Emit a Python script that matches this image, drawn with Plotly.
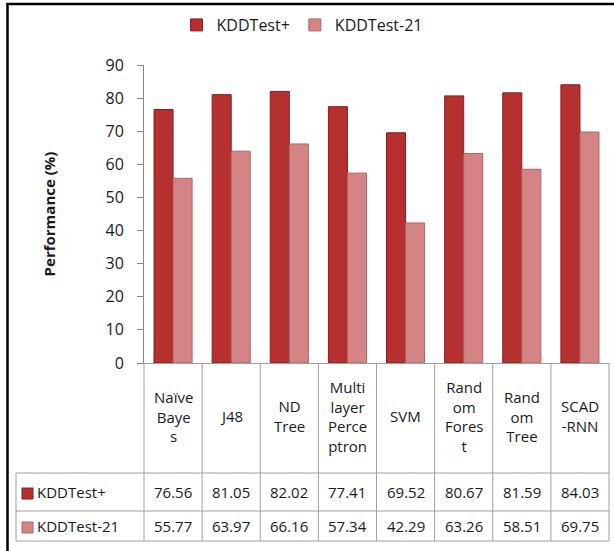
import plotly.graph_objects as go

categories = ["Naïve<br>Baye<br>s", "J48", "ND<br>Tree", "Multi<br>layer<br>Perce<br>ptron", "SVM",
              "Rand<br>om<br>Fores<br>t", "Rand<br>om<br>Tree", "SCAD<br>-RNN"]
cat_ids = ["Naïve Bayes", "J48", "ND Tree", "Multilayer Perceptron", "SVM",
           "Random Forest", "Random Tree", "SCAD-RNN"]
series_names = ["KDDTest+", "KDDTest-21"]
kdd_plus = [76.56, 81.05, 82.02, 77.41, 69.52, 80.67, 81.59, 84.03]
kdd_21 = [55.77, 63.97, 66.16, 57.34, 42.29, 63.26, 58.51, 69.75]
y_ticks = [0, 10, 20, 30, 40, 50, 60, 70, 80, 90]

W, H = 614, 551
L, R, T, B = 144, 5, 65, 188
pw, ph = W - L - R, H - T - B
y0pix = T + ph

def px(p):
    return (p - L) / pw

def py(p):
    return (y0pix - p) / ph

col_dark = "#B5302F"
col_dark_edge = "#8A1C1C"
col_light = "#D58486"
col_light_edge = "#B06466"
grid_col = "#A0A0A0"
txt_col = "#1a1a1a"
FONT = "Open Sans"

fig = go.Figure()
fig.add_trace(go.Bar(x=cat_ids, y=kdd_plus, name=series_names[0],
                     marker=dict(color=col_dark, line=dict(color=col_dark_edge, width=1))))
fig.add_trace(go.Bar(x=cat_ids, y=kdd_21, name=series_names[1],
                     marker=dict(color=col_light, line=dict(color=col_light_edge, width=1))))

shapes = []
n = len(cat_ids)
# table lines
row_lines = [473, 511, 541]
for i in range(n + 1):
    shapes.append(dict(type="line", xref="paper", yref="paper", x0=i / n, x1=i / n,
                       y0=py(y0pix), y1=py(541), line=dict(color=grid_col, width=1)))
shapes.append(dict(type="line", xref="paper", yref="paper", x0=px(16), x1=px(16),
                   y0=py(473), y1=py(541), line=dict(color=grid_col, width=1)))
for r in row_lines:
    shapes.append(dict(type="line", xref="paper", yref="paper", x0=px(16), x1=1,
                       y0=py(r), y1=py(r), line=dict(color=grid_col, width=1)))
# legend keys in table
for r, (c, e) in zip([492, 526], [(col_dark, col_dark_edge), (col_light, col_light_edge)]):
    shapes.append(dict(type="rect", xref="paper", yref="paper", x0=px(22), x1=px(33),
                       y0=py(r + 7), y1=py(r - 4), fillcolor=c, line=dict(color=e, width=1)))
# outer black frame (top and left)
shapes.append(dict(type="line", xref="paper", yref="paper", x0=px(6.5), x1=px(614),
                   y0=py(4), y1=py(4), line=dict(color="black", width=2.5)))
shapes.append(dict(type="line", xref="paper", yref="paper", x0=px(7.5), x1=px(7.5),
                   y0=py(3), y1=py(551), line=dict(color="black", width=2.5)))

annotations = []
for i, c in enumerate(categories):
    annotations.append(dict(x=cat_ids[i], xref="x", y=py(416), yref="paper", text=c,
                            showarrow=False, font=dict(family=FONT, size=15, color=txt_col),
                            xanchor="center", yanchor="middle"))
    annotations.append(dict(x=cat_ids[i], xref="x", y=py(492), yref="paper", text=f"{kdd_plus[i]:.2f}",
                            showarrow=False, font=dict(family=FONT, size=15, color=txt_col),
                            xanchor="center", yanchor="middle"))
    annotations.append(dict(x=cat_ids[i], xref="x", y=py(526), yref="paper", text=f"{kdd_21[i]:.2f}",
                            showarrow=False, font=dict(family=FONT, size=15, color=txt_col),
                            xanchor="center", yanchor="middle"))
for r, name in zip([492, 526], series_names):
    annotations.append(dict(x=px(35), xref="paper", y=py(r), yref="paper", text=name,
                            showarrow=False, font=dict(family=FONT, size=15, color=txt_col),
                            xanchor="left", yanchor="middle"))

fig.update_layout(
    width=W, height=H,
    margin=dict(l=L, r=R, t=T, b=B),
    paper_bgcolor="white", plot_bgcolor="white",
    barmode="group", bargap=0.345, bargroupgap=0,
    font=dict(family=FONT, size=16, color=txt_col),
    showlegend=True,
    legend=dict(orientation="h", x=0.07, xanchor="left", y=py(25), yanchor="middle",
                font=dict(family=FONT, size=16, color=txt_col), traceorder="normal"),
    shapes=shapes,
    annotations=annotations,
    xaxis=dict(range=[-0.5, n - 0.5], showticklabels=False, ticks="", showline=True,
               linecolor=grid_col, linewidth=1, showgrid=False, zeroline=False, fixedrange=True),
    yaxis=dict(range=[0, 90], tickvals=y_ticks, ticks="outside", ticklen=6, tickcolor="#888888",
               showline=True, linecolor="#888888", linewidth=1, showgrid=False, zeroline=False,
               ticklabelstandoff=10,
               tickfont=dict(family=FONT, size=16, color=txt_col),
               title=dict(text="<b>Performance (%)</b>", font=dict(family=FONT, size=15, color=txt_col),
                          standoff=46)),
)

fig.write_html("out.html", config={"displayModeBar": False},
               post_script="document.body.style.margin='0px';document.body.style.overflow='hidden';")
